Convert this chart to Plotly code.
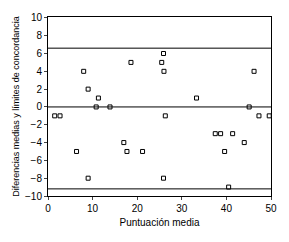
import plotly.graph_objects as go

# Data
mean_score = [1.5, 2.7, 6.4, 8.0, 9.0, 9.0, 10.8, 11.3, 13.9, 17.0, 17.7, 18.6,
              21.2, 25.5, 25.9, 25.9, 26.0, 26.3, 33.3, 37.5, 38.7, 39.6, 40.5,
              41.4, 44.0, 45.1, 46.2, 47.3, 49.6]
difference = [-1, -1, -5, 4, 2, -8, 0, 1, 0, -4, -5, 5,
              -5, 5, 6, -8, 4, -1, 1, -3, -3, -5, -9,
              -3, -4, 0, 4, -1, -1]
upper_limit = 6.6
lower_limit = -9.2
zero_line = 0

x_ticks = [0, 10, 20, 30, 40, 50]
y_ticks = [-10, -8, -6, -4, -2, 0, 2, 4, 6, 8, 10]

font_family = "Liberation Sans Narrow, Arial Narrow, Liberation Sans, Arial, sans-serif"

fig = go.Figure()
fig.add_trace(go.Scatter(
    x=mean_score, y=difference, mode="markers",
    marker=dict(symbol="square-open", size=4, color="black", line=dict(width=1, color="black")),
    showlegend=False, cliponaxis=True,
))

for yv in [upper_limit, zero_line, lower_limit]:
    fig.add_shape(type="line", xref="paper", yref="y", x0=0, x1=1, y0=yv, y1=yv,
                  line=dict(color="black", width=1))

fig.update_layout(
    width=289, height=242,
    margin=dict(l=48, r=15, t=17, b=46),
    paper_bgcolor="white", plot_bgcolor="white",
    font=dict(family=font_family, size=10, color="black"),
)
fig.update_xaxes(
    range=[0, 50], tickvals=x_ticks, ticks="outside", ticklen=3, tickwidth=1,
    showline=True, linecolor="black", linewidth=1, mirror=True, showgrid=False, zeroline=False,
    title=dict(text="Puntuación media", font=dict(size=10), standoff=5),
    tickfont=dict(size=10),
)
fig.update_yaxes(
    range=[-10, 10.1], tickvals=y_ticks, ticks="outside", ticklen=3, tickwidth=1,
    showline=True, linecolor="black", linewidth=1, mirror=True, showgrid=False, zeroline=False,
    title=dict(text="Diferencias medias y límites de concordancia", font=dict(size=9), standoff=3),
    tickfont=dict(size=10),
)

fig.write_html("out.html")
